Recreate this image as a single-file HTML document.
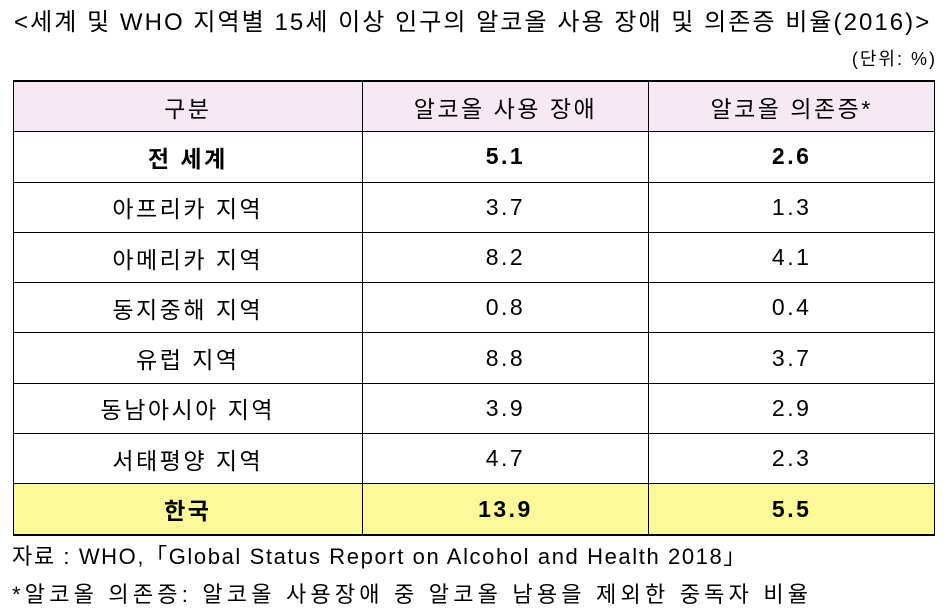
<!DOCTYPE html>
<html><head><meta charset="utf-8"><style>
html,body{margin:0;padding:0;background:#fff;width:949px;height:616px;overflow:hidden;}
body{font-family:"Liberation Sans","Noto Sans CJK KR",sans-serif;color:#000;position:relative;}
.t{position:absolute;white-space:nowrap;}
table{position:absolute;left:13px;top:80px;border-collapse:collapse;width:922px;}
td{border:1px solid #000;height:49.3px;padding:0;text-align:center;font-size:23px;letter-spacing:2.5px;}
tr.h td{background:#f7e9f3;}
tr.k td{background:#fbf99a;font-weight:bold;}
tr.b td{font-weight:bold;}
table{border-top:2px solid #000;border-bottom:2px solid #000;}
</style></head><body>
<div class="t" style="left:14px;top:2px;font-size:24px;letter-spacing:2.05px;">&lt;세계 및 WHO 지역별 15세 이상 인구의 알코올 사용 장애 및 의존증 비율(2016)&gt;</div>
<div class="t" style="right:12px;top:45px;font-size:18px;letter-spacing:2px;">(단위: %)</div>
<table>
<colgroup><col style="width:349px"><col style="width:287px"><col style="width:286px"></colgroup>
<tr class="h"><td>구분</td><td>알코올 사용 장애</td><td>알코올 의존증*</td></tr>
<tr class="b"><td>전 세계</td><td>5.1</td><td>2.6</td></tr>
<tr><td>아프리카 지역</td><td>3.7</td><td>1.3</td></tr>
<tr><td>아메리카 지역</td><td>8.2</td><td>4.1</td></tr>
<tr><td>동지중해 지역</td><td>0.8</td><td>0.4</td></tr>
<tr><td>유럽 지역</td><td>8.8</td><td>3.7</td></tr>
<tr><td>동남아시아 지역</td><td>3.9</td><td>2.9</td></tr>
<tr><td>서태평양 지역</td><td>4.7</td><td>2.3</td></tr>
<tr class="k"><td>한국</td><td>13.9</td><td>5.5</td></tr>
</table>
<div class="t" style="left:12px;top:539px;font-size:22px;letter-spacing:1.6px;">자료 : WHO,「Global Status Report on Alcohol and Health 2018」</div>
<div class="t" style="left:12px;top:577px;font-size:22px;letter-spacing:4.2px;">*알코올 의존증: 알코올 사용장애 중 알코올 남용을 제외한 중독자 비율</div>
</body></html>
